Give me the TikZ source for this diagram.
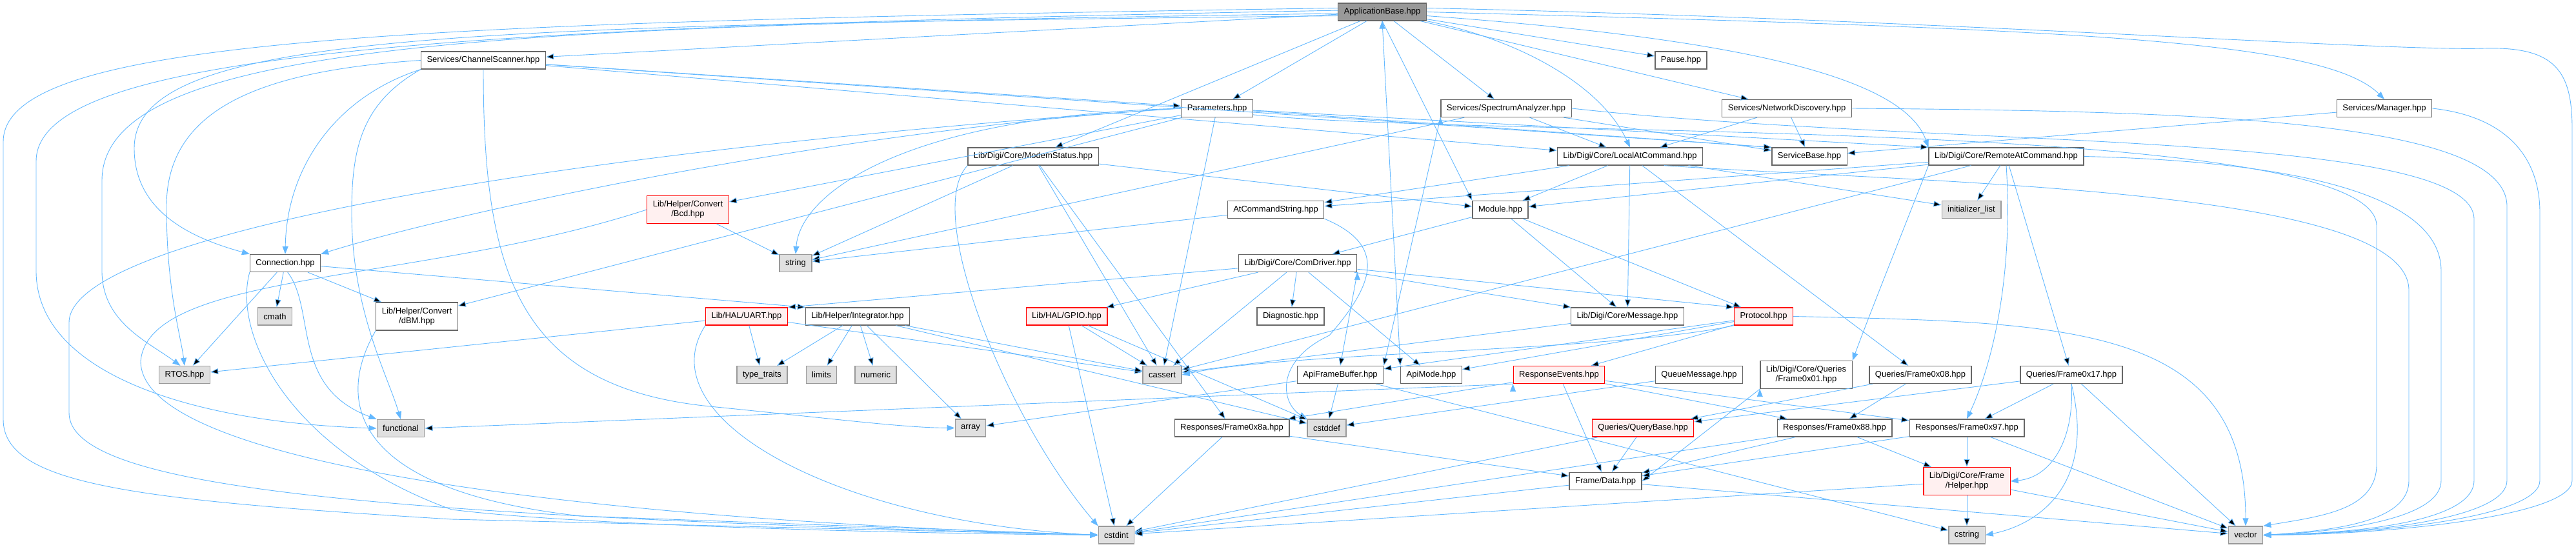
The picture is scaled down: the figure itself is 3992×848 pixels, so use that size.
\documentclass[tikz,border=0pt]{standalone}
\usepackage{fontspec}
\setmainfont{Liberation Sans}
\usetikzlibrary{arrows.meta}
\definecolor{depBlue}{RGB}{99,184,255}
\definecolor{fileBorder}{RGB}{102,102,102}
\definecolor{sysFill}{RGB}{224,224,224}
\definecolor{sysBorder}{RGB}{153,153,153}
\definecolor{rootFill}{RGB}{153,153,153}
\definecolor{warnFill}{RGB}{255,240,240}

\begin{document}
\begin{tikzpicture}[
  x=1pt, y=-1pt,
  file/.style={
    draw=fileBorder,
    fill=white,
    line width=1.3pt,
    minimum height=27pt,
    inner xsep=9pt,
    inner ysep=1pt,
    align=center,
    font=\fontsize{13}{15}\selectfont
  },
  twoline/.style={minimum height=43pt},
  sysfile/.style={file,draw=sysBorder,fill=sysFill},
  warnfile/.style={file,draw=red,fill=warnFill},
  rootfile/.style={file,fill=rootFill},
  dep/.style={draw=depBlue,line width=0.9pt,-{Triangle[length=12pt,width=9pt]}}
]
  \useasboundingbox (0,0) rectangle (3992,848);

  % rows of headers, top to bottom
  \node[rootfile] (ab) at (2142,18.5) {ApplicationBase.hpp};
  \node[file] (cs) at (749,93.5) {Services/ChannelScanner.hpp};
  \node[file] (pause) at (2605,93.5) {Pause.hpp};
  \node[file] (par) at (1886,168) {Parameters.hpp};
  \node[file] (spec) at (2334,168) {Services/SpectrumAnalyzer.hpp};
  \node[file] (nd) at (2769,168) {Services/NetworkDiscovery.hpp};
  \node[file] (mgr) at (3695,168) {Services/Manager.hpp};
  \node[file] (modem) at (1601,242.5) {Lib/Digi/Core/ModemStatus.hpp};
  \node[file] (local) at (2526,242.5) {Lib/Digi/Core/LocalAtCommand.hpp};
  \node[file] (sbase) at (2804,242.5) {ServiceBase.hpp};
  \node[file] (remote) at (3109,242.5) {Lib/Digi/Core/RemoteAtCommand.hpp};
  \node[warnfile,twoline] (bcd) at (1066,325) {Lib/Helper/Convert\\/Bcd.hpp};
  \node[file] (atstr) at (1977,325) {AtCommandString.hpp};
  \node[file] (module) at (2325,325) {Module.hpp};
  \node[sysfile] (initl) at (3055,325) {initializer\_list};
  \node[file] (conn) at (442,408) {Connection.hpp};
  \node[sysfile] (str) at (1233,408) {string};
  \node[file] (com) at (2011,408) {Lib/Digi/Core/ComDriver.hpp};
  \node[sysfile] (cmath) at (426,490.5) {cmath};
  \node[file,twoline] (dbm) at (646,490.5) {Lib/Helper/Convert\\/dBM.hpp};
  \node[warnfile] (uart) at (1157,490.5) {Lib/HAL/UART.hpp};
  \node[file] (integ) at (1329,490.5) {Lib/Helper/Integrator.hpp};
  \node[warnfile] (gpio) at (1653,490.5) {Lib/HAL/GPIO.hpp};
  \node[file] (diag) at (2000,490.5) {Diagnostic.hpp};
  \node[file] (msg) at (2522,490.5) {Lib/Digi/Core/Message.hpp};
  \node[warnfile] (proto) at (2733,490.5) {Protocol.hpp};
  \node[sysfile] (rtos) at (286,581) {RTOS.hpp};
  \node[sysfile] (tt) at (1181,581) {type\_traits};
  \node[sysfile] (limits) at (1273,581) {limits};
  \node[sysfile] (numeric) at (1357,581) {numeric};
  \node[sysfile] (cassert) at (1801,581) {cassert};
  \node[file] (afb) at (2077,581) {ApiFrameBuffer.hpp};
  \node[file] (apimode) at (2218,581) {ApiMode.hpp};
  \node[warnfile] (revents) at (2416,581) {ResponseEvents.hpp};
  \node[file] (qmsg) at (2633,581) {QueueMessage.hpp};
  \node[file,twoline] (f01) at (2799,581) {Lib/Digi/Core/Queries\\/Frame0x01.hpp};
  \node[file] (f08) at (2976,581) {Queries/Frame0x08.hpp};
  \node[file] (f17) at (3210,581) {Queries/Frame0x17.hpp};
  \node[sysfile] (func) at (621,664) {functional};
  \node[sysfile] (array) at (1504,663.5) {array};
  \node[file] (f8a) at (1909,663.5) {Responses/Frame0x8a.hpp};
  \node[sysfile] (cstddef) at (2056,663.5) {cstddef};
  \node[warnfile] (qbase) at (2546,663.5) {Queries/QueryBase.hpp};
  \node[file] (f88) at (2843,663.5) {Responses/Frame0x88.hpp};
  \node[file] (f97) at (3048,663.5) {Responses/Frame0x97.hpp};
  \node[file] (data) at (2488,746) {Frame/Data.hpp};
  \node[warnfile,twoline] (helper) at (3048,746) {Lib/Digi/Core/Frame\\/Helper.hpp};
  \node[sysfile] (cstdint) at (1730,829.5) {cstdint};
  \node[sysfile] (cstring) at (3048,829.5) {cstring};
  \node[sysfile] (vector) at (3480,829.5) {vector};

  % ApplicationBase.hpp
  \path[dep] (ab) edge (cs) edge (pause) edge (par) edge (spec) edge (nd) edge (modem);
  \path[dep] (ab.south) edge (module.north west) edge (apimode.north west);
  \draw[dep] (ab.east) .. controls (3200,45) and (3600,60) .. (mgr.north);
  \draw[dep] (ab.south east) .. controls (2350,60) and (2480,130) .. (local.north);
  \draw[dep] (ab.-5) .. controls (2700,60) and (2950,120) .. (remote.north west);
  \draw[dep] (ab.175) .. controls (600,35) and (5,60) .. (5,220) -- (5,650)
    .. controls (5,750) and (200,775) .. (700,805) -- (cstdint.west);
  \draw[dep] (ab.178) .. controls (700,42) and (56,80) .. (56,250) -- (56,420)
    .. controls (56,580) and (300,655) .. (func.west);
  \draw[dep] (ab.182) .. controls (800,40) and (158,60) .. (158,280) -- (158,420)
    .. controls (158,500) and (230,530) .. (rtos.115);
  \draw[dep] (ab.185) .. controls (700,40) and (208,50) .. (208,230)
    .. controls (208,330) and (300,370) .. (conn.north west);
  \draw[dep] (ab.5) .. controls (3000,30) and (3700,80) .. (3850,75)
    .. controls (3960,72) and (3986,110) .. (3986,200) -- (3986,745)
    .. controls (3986,800) and (3700,829) .. (vector.east);

  % Services
  \path[dep] (cs) edge (par) edge (local) edge (sbase.north west);
  \draw[dep] (cs.west) .. controls (400,110) and (258,170) .. (258,320)
    .. controls (258,450) and (280,520) .. (rtos.north);
  \draw[dep] (cs.south west) .. controls (520,150) and (444,260) .. (conn.north);
  \draw[dep] (cs.south west) .. controls (560,160) and (545,230) .. (545,330)
    .. controls (545,480) and (600,580) .. (func.north);
  \draw[dep] (cs.south) .. controls (749,420) and (800,600) .. (1100,630)
    .. controls (1300,650) and (1400,663) .. (array.west);
  \path[dep] (spec) edge (sbase) edge (local) edge (str);
  \path[dep] (spec.south west) edge (afb.north east);
  \draw[dep] (spec.east) .. controls (3000,230) and (3834,200) .. (3834,340) -- (3834,745)
    .. controls (3834,800) and (3700,825) .. (vector.east);
  \path[dep] (nd) edge (sbase) edge (local);
  \draw[dep] (nd.east) .. controls (3400,172) and (3885,185) .. (3885,320) -- (3885,745)
    .. controls (3885,800) and (3700,826) .. (vector.east);
  \path[dep] (mgr) edge (sbase);
  \draw[dep] (mgr.east) .. controls (3880,180) and (3936,240) .. (3936,330) -- (3936,745)
    .. controls (3936,800) and (3700,827) .. (vector.east);

  % Parameters.hpp
  \path[dep] (par) edge (bcd) edge (dbm) edge (cassert) edge (sbase.north west) edge (remote.north west);
  \draw[dep] (par.west) .. controls (1400,180) and (1240,300) .. (str.north);
  \draw[dep] (par.west) .. controls (1300,200) and (700,330) .. (conn.north east);
  \draw[dep] (par.west) .. controls (900,230) and (107,360) .. (107,500) -- (107,640)
    .. controls (107,760) and (600,800) .. (cstdint.west);
  \draw[dep] (par.-10) .. controls (2300,215) and (3683,180) .. (3683,350) -- (3683,720)
    .. controls (3683,790) and (3600,800) .. (vector.north east);

  % Digi core
  \path[dep] (modem) edge (str) edge (module) edge (cassert) edge (f8a);
  \draw[dep] (modem.south west) .. controls (1430,330) and (1560,650) .. (cstdint.north west);
  \path[dep] (local) edge (module) edge (atstr) edge (initl) edge (f08) edge (msg);
  \draw[dep] (local.-15) .. controls (3000,285) and (3733,290) .. (3733,450) -- (3733,745)
    .. controls (3733,800) and (3650,821) .. (vector.east);
  \path[dep] (remote) edge (initl) edge (atstr) edge (module) edge (f17) edge (cassert);
  \draw[dep] (remote.south) .. controls (3120,420) and (3090,560) .. (f97.north);
  \draw[dep] (remote.south west) .. controls (2960,330) and (2900,480) .. (f01.north east);
  \draw[dep] (remote.east) .. controls (3550,250) and (3783,300) .. (3783,420) -- (3783,745)
    .. controls (3783,800) and (3650,823) .. (vector.east);
  \path[dep] (bcd) edge (str);
  \draw[dep] (bcd.west) .. controls (650,440) and (230,420) .. (218,560)
    .. controls (218,720) and (900,805) .. (cstdint.west);
  \path[dep] (atstr) edge (str);
  \draw[dep] (atstr.south east) .. controls (2150,380) and (2130,440) .. (2060,520)
    .. controls (1975,560) and (1985,625) .. (cstddef.north west);
  \path[dep] (module) edge (com) edge (proto) edge (msg);

  % Connection.hpp
  \path[dep] (conn) edge (cmath) edge (rtos) edge (dbm) edge (integ.north west);
  \draw[dep] (conn.-75) .. controls (490,480) and (450,600) .. (func.north west);
  \draw[dep] (conn.south west) .. controls (360,520) and (450,700) .. (700,790)
    .. controls (900,815) and (1400,827) .. (cstdint.west);
  \draw[dep] (dbm.south west) .. controls (520,620) and (540,760) .. (900,800) -- (cstdint.west);

  % ComDriver and HAL
  \path[dep] (com) edge (uart.north east) edge (gpio) edge (diag) edge (msg)
    edge (proto.north west) edge (apimode) edge (cassert);
  \path[dep] (com.south east) edge (afb.north);
  \path[dep] (uart) edge (rtos) edge (tt) edge (cassert);
  \draw[dep] (uart.south west) .. controls (1000,650) and (1300,810) .. (cstdint.west);
  \path[dep] (integ) edge (tt) edge (limits) edge (numeric) edge (array) edge (cassert) edge (cstddef);
  \path[dep] (gpio) edge (cstdint) edge (cassert) edge (cstddef);
  \path[dep] (msg) edge (cassert);

  % Protocol and frames
  \path[dep] (proto) edge (revents) edge (afb) edge (apimode);
  \draw[dep] (proto.south west) .. controls (2500,545) and (2000,545) .. (cassert.east);
  \draw[dep] (proto.east) .. controls (3200,500) and (3480,500) .. (vector.north);
  \path[dep] (afb) edge (cstddef) edge (cstring) edge (array);
  \path[dep] (revents) edge (f88) edge (f97) edge (data) edge (f8a);
  \path[dep] (revents.south west) edge (func.east);
  \path[dep] (qmsg) edge (cstddef);
  \path[dep] (f01.south west) edge (data.east);
  \path[dep] (f08) edge (qbase) edge (f88);
  \path[dep] (f17) edge (qbase) edge (f97) edge (vector);
  \draw[dep] (f17.south) .. controls (3215,680) and (3180,740) .. (helper.east);
  \draw[dep] (f17.south) .. controls (3250,760) and (3150,815) .. (cstring.east);
  \path[dep] (f8a) edge (data) edge (cstdint);
  \path[dep] (qbase) edge (data) edge (cstdint);
  \path[dep] (f88) edge (helper) edge (cstdint) edge (data);
  \path[dep] (f97) edge (helper) edge (data) edge (vector);
  \path[dep] (data) edge (cstdint) edge (vector);
  \path[dep] (helper) edge (cstring) edge (cstdint) edge (vector);
\end{tikzpicture}
\end{document}
